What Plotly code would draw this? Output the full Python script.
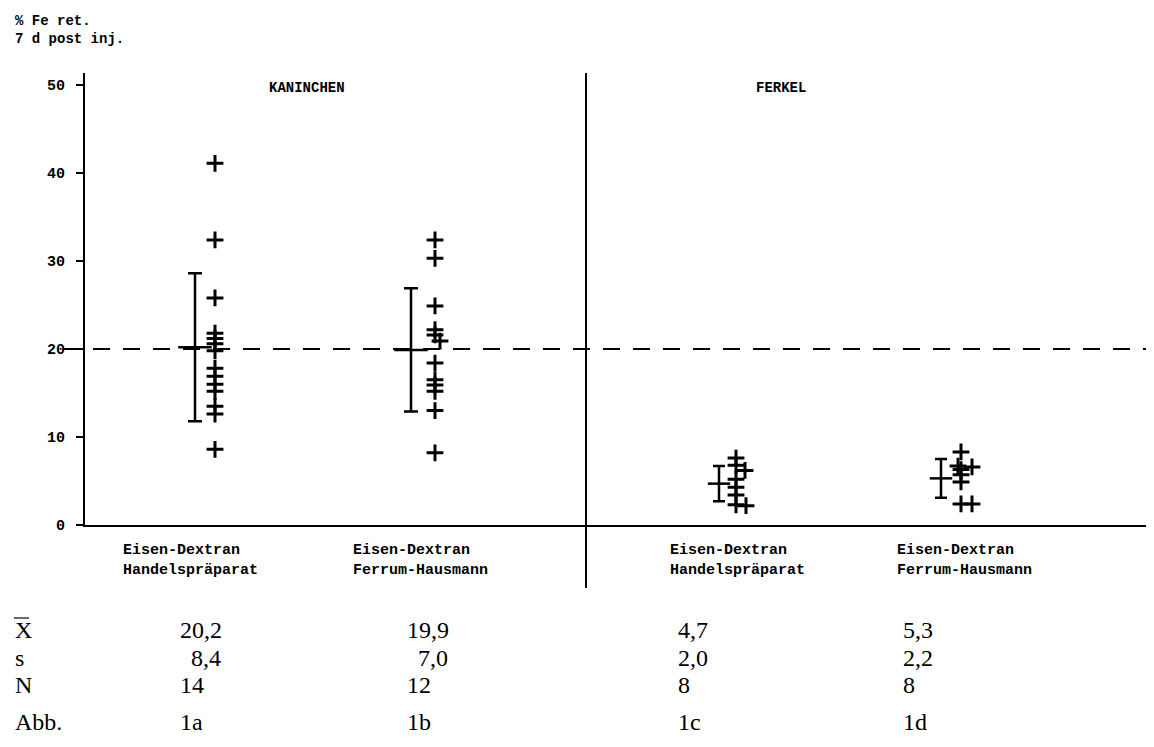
import plotly.graph_objects as go

# ---------------- data ----------------
species = ["KANINCHEN", "FERKEL"]
cat_line1 = ["Eisen-Dextran", "Eisen-Dextran", "Eisen-Dextran", "Eisen-Dextran"]
cat_line2 = ["Handelspräparat", "Ferrum-Hausmann", "Handelspräparat", "Ferrum-Hausmann"]
means = [20.2, 19.9, 4.7, 5.3]
sds = [8.4, 7.0, 2.0, 2.2]
ns = [14, 12, 8, 8]
abb = ["1a", "1b", "1c", "1d"]
values_1a = [41.1, 32.4, 25.8, 21.8, 21.2, 20.6, 19.8, 17.8, 16.9, 16.0, 15.2, 13.5, 12.6, 8.6]
values_1b = [32.4, 30.3, 24.9, 22.2, 21.6, 20.9, 18.4, 16.5, 15.9, 15.2, 13.0, 8.2]
values_1c = [7.6, 6.8, 6.2, 5.2, 4.3, 3.4, 2.3, 2.2]
values_1d = [8.3, 6.7, 6.6, 6.3, 5.7, 4.9, 2.4, 2.4]
yticks = [0, 10, 20, 30, 40, 50]
reference_level = 20
row_labels = ["X", "s", "N", "Abb."]

# ---------------- layout / positions (pixel-like x units) ----------------
W, H = 1154, 747
ML, MT = 77, 65
Y0PIX = 517
PH = Y0PIX - MT
bar_x = [110, 326, 634, 856]
pts_x = [130, 350, 651, 876]
offsets = [
    [0] * 14,
    [0, 0, 0, 0, 0, 5, 0, 0, 0, 0, 0, 0],
    [0, 0, 9, 0, 0, 0, 0, 10],
    [0, -3, 11, 0, 0, 0, 0, 11],
]
divider_x = 501
species_x = [222, 696]
cat_x = [36, 266, 583, 810]
col_x = [93, 320, 591, 816]

def py(pix):
    return (Y0PIX - pix) / PH

def px(pix):
    return (pix - ML) / (W - ML)

MONO = "Liberation Mono"
SERIF = "Liberation Serif"

fig = go.Figure()

groups = [values_1a, values_1b, values_1c, values_1d]
for g, vals in enumerate(groups):
    fig.add_trace(go.Scatter(
        x=[pts_x[g] + o for o in offsets[g]], y=vals, mode="markers",
        marker=dict(symbol="cross-thin", size=12, line=dict(width=3, color="black"), color="black"),
        showlegend=False, hoverinfo="y"))
    fig.add_trace(go.Scatter(
        x=[bar_x[g]], y=[means[g]], mode="markers",
        marker=dict(symbol="line-ew", size=24 if g < 2 else 16, line=dict(width=2.5, color="black")),
        error_y=dict(type="data", array=[sds[g]], symmetric=True, color="black",
                     thickness=2.5, width=7 if g < 2 else 6),
        showlegend=False, hoverinfo="y"))

shapes = [
    dict(type="line", xref="paper", yref="y", x0=px(55), x1=1, y0=reference_level, y1=reference_level,
         line=dict(color="black", width=2, dash="17px,13px")),
    dict(type="line", xref="x", yref="paper", x0=divider_x, x1=divider_x, y0=py(580), y1=1,
         line=dict(color="black", width=2)),
    dict(type="line", xref="paper", yref="paper", x0=px(6), x1=px(21), y0=py(610), y1=py(610),
         line=dict(color="black", width=1.2)),
]

ann = []
ann.append(dict(text="% Fe ret.<br>7 d post inj.", xref="paper", yref="paper", x=px(5), y=py(3),
                xanchor="left", yanchor="top", showarrow=False, align="left",
                font=dict(family=MONO, size=14, weight="bold", color="black")))
for i, s in enumerate(species):
    ann.append(dict(text=s, xref="x", yref="paper", x=species_x[i], y=py(80), xanchor="center",
                    yanchor="middle", showarrow=False,
                    font=dict(family=MONO, size=14, weight="bold", color="black")))
for i in range(4):
    ann.append(dict(text=cat_line1[i] + "<br>" + cat_line2[i], xref="x", yref="paper", x=cat_x[i],
                    y=py(532), xanchor="left", yanchor="top", showarrow=False, align="left",
                    font=dict(family=MONO, size=15, weight="bold", color="black")))

row_y = [622, 650, 677, 714]
for r, lab in enumerate(row_labels):
    ann.append(dict(text=lab, xref="paper", yref="paper", x=px(5), y=py(row_y[r]), xanchor="left",
                    yanchor="middle", showarrow=False, font=dict(family=SERIF, size=24, color="black")))

def fmt(v):
    return f"{v:.1f}".replace(".", ",")

for c in range(4):
    mt = fmt(means[c])
    st = fmt(sds[c])
    texts = [mt, st, str(ns[c]), abb[c]]
    for r, t in enumerate(texts):
        if r == 1 and c < 2:
            # right-aligned under the mean
            ann.append(dict(text=t, xref="x", yref="paper", x=col_x[c] + 45, y=py(row_y[r]),
                            xanchor="right", yanchor="middle", showarrow=False,
                            font=dict(family=SERIF, size=24, color="black")))
        else:
            ann.append(dict(text=t, xref="x", yref="paper", x=col_x[c], y=py(row_y[r]),
                            xanchor="left", yanchor="middle", showarrow=False,
                            font=dict(family=SERIF, size=24, color="black")))

fig.update_layout(
    width=W, height=H, margin=dict(l=ML, r=0, t=MT, b=H - Y0PIX),
    paper_bgcolor="white", plot_bgcolor="white",
    xaxis=dict(range=[0, W - ML], showline=True, linewidth=2, linecolor="black", showgrid=False,
               zeroline=False, showticklabels=False, ticks=""),
    yaxis=dict(range=[0, (Y0PIX - MT) / 8.8], tickvals=yticks, ticks="outside", ticklen=7, tickwidth=2,
               tickcolor="black", showline=True, linewidth=2, linecolor="black", showgrid=False,
               zeroline=False, ticklabelstandoff=8,
               tickfont=dict(family=MONO, size=15, weight="bold", color="black")),
    shapes=shapes, annotations=ann,
)

fig.write_html("out.html")
